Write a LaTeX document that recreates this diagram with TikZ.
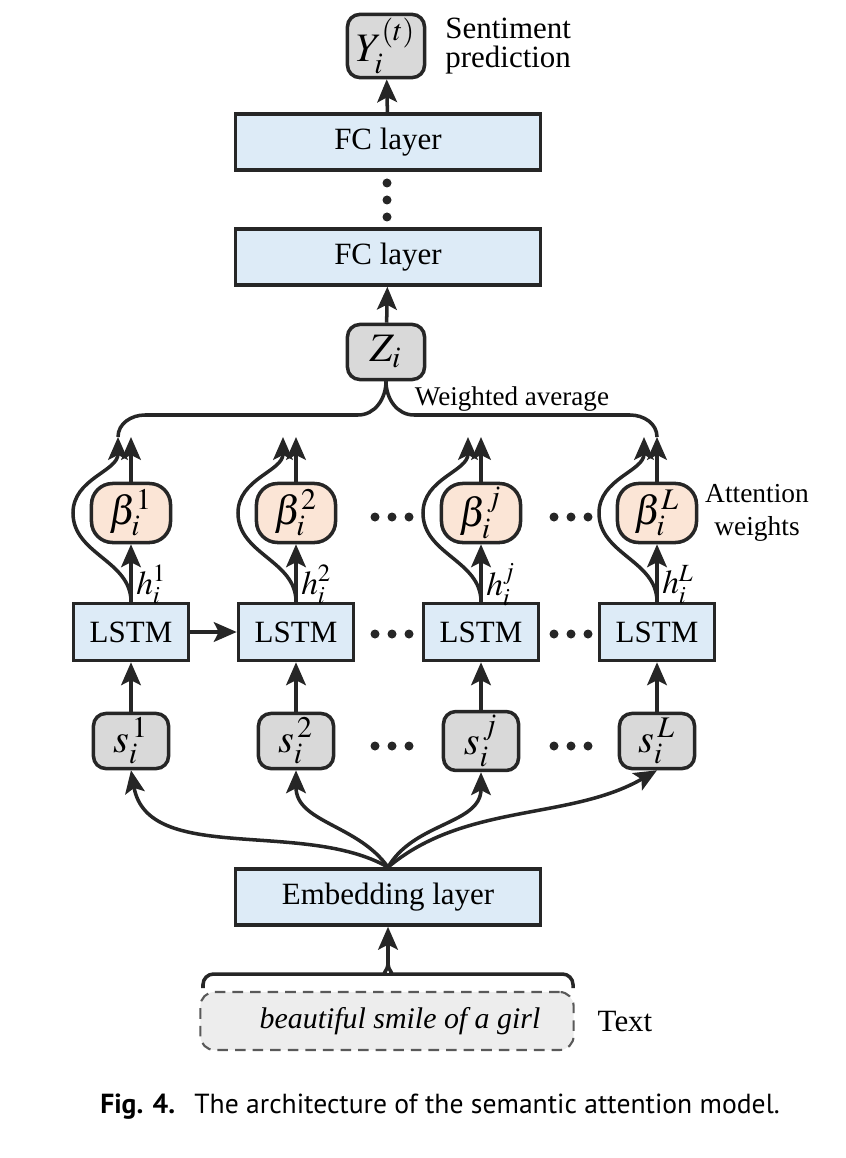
\documentclass[tikz,border=0pt]{standalone}
\usepackage{mathptmx}
\usepackage[no-math]{fontspec}
\setmainfont{Liberation Serif}
\newfontfamily\capfont{PT Sans}
\usetikzlibrary{arrows.meta}
\definecolor{boxblue}{HTML}{DDEBF7}
\definecolor{boxpeach}{HTML}{FBE5D6}
\definecolor{boxgray}{HTML}{D9D9D9}
\definecolor{txtgray}{HTML}{EDEDED}
\definecolor{linegray}{HTML}{262626}
\newcommand{\boxFont}{\fontsize{8.8}{10}\selectfont}
\newcommand{\mathFont}{\fontsize{11.5}{12}\selectfont}
\tikzset{
  arr/.style={-{Stealth[length=6.5pt,width=5.6pt,inset=1.4pt]}, line width=1pt, draw=linegray},
  wire/.style={line width=1pt, draw=linegray},
  layerbox/.style={draw=linegray, line width=1pt, fill=boxblue, minimum width=3.05cm, minimum height=0.56cm, font=\boxFont},
  lstmbox/.style={layerbox, minimum width=1.15cm, minimum height=0.57cm},
  betabox/.style={draw=linegray, line width=1pt, fill=boxpeach, rounded corners=6pt, minimum width=0.79cm, minimum height=0.59cm, inner sep=1pt, font=\mathFont},
  vecbox/.style={draw=linegray, line width=1pt, fill=boxgray, rounded corners=3.5pt, minimum width=0.75cm, minimum height=0.55cm, inner sep=1pt, font=\mathFont},
  textbox/.style={draw=black!65, dash pattern=on 3pt off 2pt, line width=0.6pt, fill=txtgray, rounded corners=4pt, minimum width=3.73cm, minimum height=0.58cm, font=\fontsize{8.5}{10}\selectfont},
  hlabel/.style={font=\fontsize{9.5}{10}\selectfont, inner sep=1pt},
  sidelabel/.style={font=\fontsize{8.8}{8}\selectfont},
}

\begin{document}
\begin{tikzpicture}[x=0.01cm, y=-0.01cm]
   \useasboundingbox (0,0) rectangle (846,1158);

   % top of the model
   \node[vecbox, minimum width=0.77cm, minimum height=0.52cm] (yout) at (386,46) {$Y_i^{(t)}$};
   \node[sidelabel, anchor=west, align=left] (sentlbl) at (433,46) {Sentiment\\prediction};
   \node[layerbox] (fc2) at (388,142) {FC layer};
   \node[layerbox] (fc1) at (388,257) {FC layer};
   \node[vecbox, minimum width=0.77cm, minimum height=0.55cm] (zavg) at (386,352) {$Z_i$};
   \draw[arr] (fc2) -- (yout);
   \draw[arr] (zavg) -- (fc1);
   \foreach \dy in {183,200,217}
      \fill[linegray] (387,\dy) circle[radius=0.045cm];

   % columns
   \foreach \x/\n/\k in {131/1/1,296/2/2,481/3/j,657/4/L}
   {%
      \node[lstmbox] (lstm\n) at (\x,632) {LSTM};
      \node[betabox] (beta\n) at (\x,513) {$\beta_i^{\k}$};
      \node[vecbox] (s\n) at (\x,741) {$s_i^{\,\k}$};
      \coordinate (top\n) at (\x,437);
      \coordinate (tip\n) at (\x-13,437);
      \draw[arr] (s\n) -- (lstm\n);
      \draw[arr] (lstm\n) -- node[right, pos=0.3, hlabel] {$h_i^{\k}$} (beta\n);
      \draw[arr] (beta\n) -- (top\n);
      \draw[arr] (lstm\n.north) to[out=90,in=-90] (\x-58,513) to[out=90,in=-90] (tip\n);
   }
   \draw[arr] (lstm1) -- (lstm2);
   \node[font=\fontsize{7.8}{9.4}\selectfont, align=center] (attlbl) at (757,513) {Attention\\weights};

   % dots between columns
   \foreach \cx in {392,571}
      \foreach \cy in {517,634,746}
         \foreach \dx in {-17,0,17}
            \fill[linegray] (\cx+\dx,\cy) circle[radius=0.045cm];

   % weighted average
   \draw[wire] (tip1) to[out=90,in=180] (145,415) -- (358,415) to[out=0,in=-90] (zavg.south);
   \draw[wire] (zavg.south) to[out=-90,in=180] (414,415) -- (630,415) to[out=0,in=90] (top4);
   \node[font=\fontsize{7.7}{8}\selectfont] (avglbl) at (512,399) {Weighted average};

   % embedding
   \node[layerbox] (emb) at (388,897) {Embedding layer};
   \draw[arr] (emb.north) to[out=150,in=-80,looseness=0.9] (s1.south);
   \draw[arr] (emb.north) to[out=125,in=-90] (s2.south);
   \draw[arr] (emb.north) to[out=60,in=-90] (s3.south);
   \draw[arr] (emb.north) to[out=40,in=-150,looseness=0.9] (s4.south);

   % input text
   \coordinate (cusp) at (388,964);
   \draw[wire, rounded corners=3pt] (203,988) -- (203,974) -- (375,974) to[out=0,in=-90] (cusp);
   \draw[wire, rounded corners=3pt] (573,988) -- (573,974) -- (401,974) to[out=180,in=-90] (cusp);
   \draw[arr] (cusp) -- (emb);
   \node[textbox] (txt) at (387,1021) {\hspace{0.26cm}\textit{beautiful smile of a girl}};
   \node[sidelabel] (txtlbl) at (625,1022) {Text};

   \node[font=\capfont\fontsize{7.85}{9}\selectfont] (caption) at (440,1107) {\textbf{Fig. 4.}\hspace{0.7em}The architecture of the semantic attention model.};
\end{tikzpicture}
\end{document}
